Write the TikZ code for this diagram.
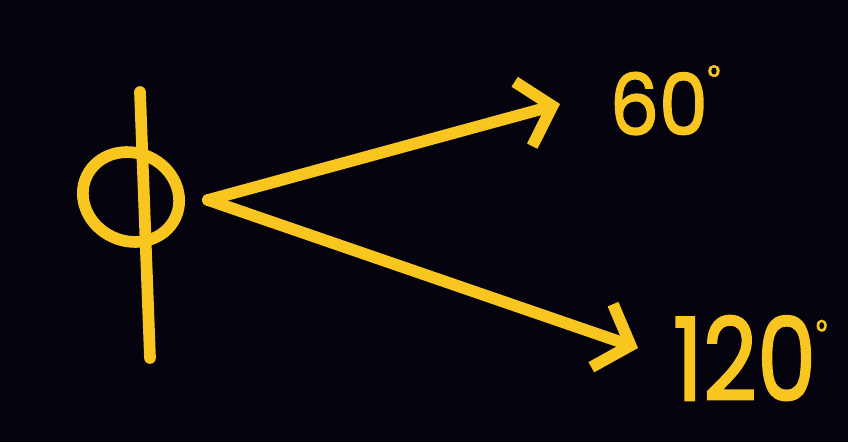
\documentclass[tikz,border=0pt]{standalone}
\usepackage{fontspec}
\setmainfont{Poppins}
\usetikzlibrary{arrows.meta}
\definecolor{ink}{RGB}{248,198,30}
\definecolor{bg}{RGB}{4,3,14}
\newcommand{\smalldeg}[1]{\raisebox{#1}{\fontsize{28}{28}\selectfont °}}
\begin{document}
\begin{tikzpicture}[x=0.03cm,y=-0.03cm,
  pen/.style={draw=ink,line width=10pt,line cap=round,line join=round},
  arr/.style={pen,-{Straight Barb[length=0.9cm,width=2.0cm,line width=10pt]}},
  lbl/.style={text=ink,inner sep=0pt,anchor=center}]
\fill[bg] (0,0) rectangle (848,442);
\useasboundingbox (0,0) rectangle (848,442);
% phi
\coordinate (phitop) at (140,92);
\coordinate (phibot) at (150,358);
\coordinate (phic) at (131,197);
\draw[pen] (phitop) -- (phibot);
\draw[pen,rotate around={-25:(phic)}] (phic) ellipse [x radius=49,y radius=44];
% origin and tips
\coordinate (o) at (208,200);
\coordinate (a60) at (560,104);
\coordinate (a120) at (638,348);
\node[lbl,font=\addfontfeatures{FakeBold=2}\fontsize{72}{74}\selectfont,xscale=0.92] (n60) at (665,100) {60\smalldeg{0.55em}};
\node[lbl,font=\addfontfeatures{FakeBold=2}\fontsize{98}{100}\selectfont,xscale=0.82] (n120) at (750,358) {120\smalldeg{0.5em}};
\draw[arr] (o) -- (a60);
\draw[arr] (o) -- (a120);
\end{tikzpicture}
\end{document}
